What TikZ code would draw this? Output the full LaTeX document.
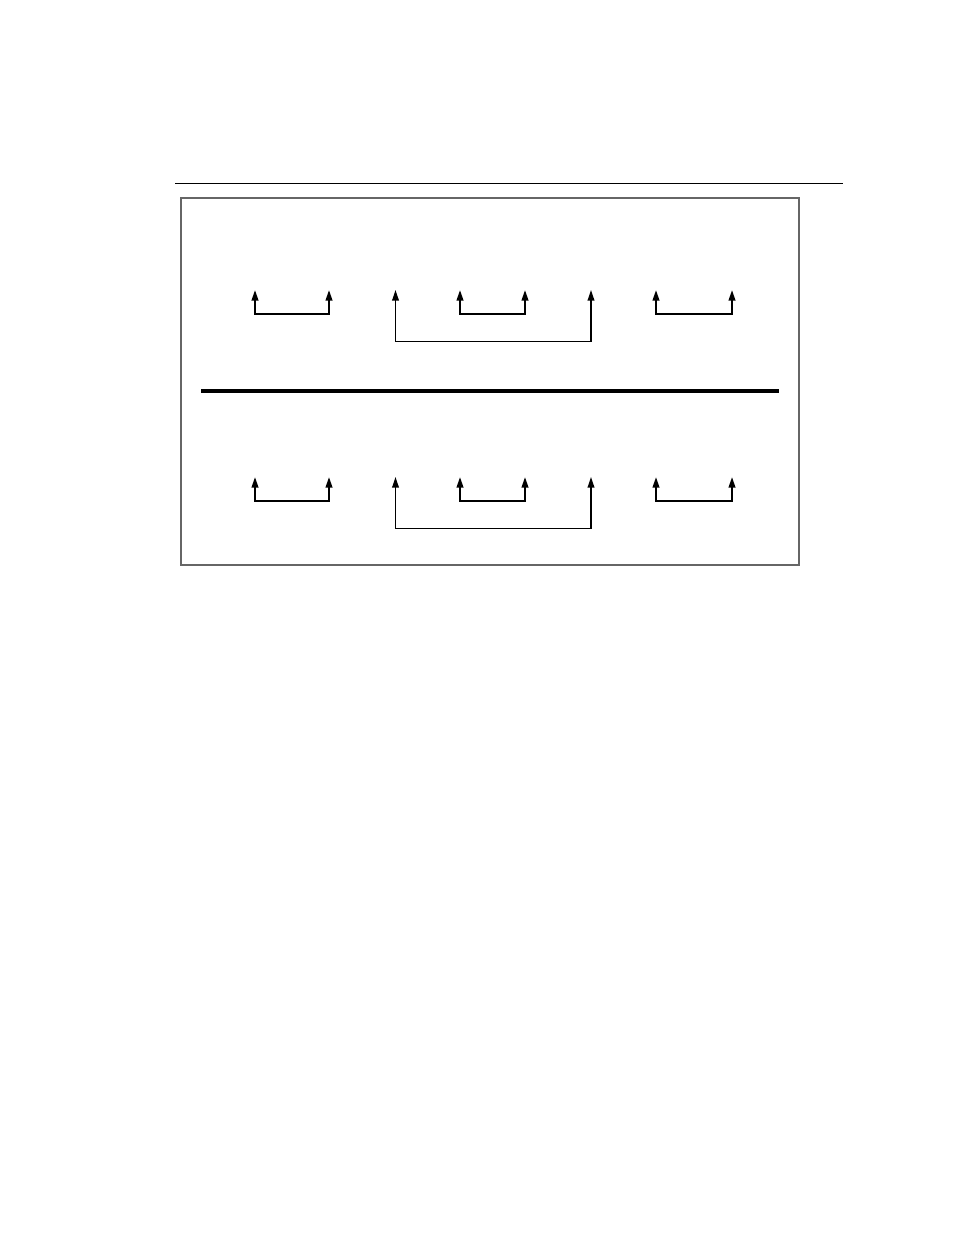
\documentclass[tikz,border=0pt]{standalone}
\usetikzlibrary{arrows.meta}

\def\rowsep{187}

\begin{document}
\begin{tikzpicture}[x=0.75pt,y=-0.75pt,>={Triangle[length=8pt,width=5pt]}]
    \tikzstyle{rule}=[line width=0.75pt]
    \tikzstyle{frame}=[draw=black!60,line width=0.9pt]
    \tikzstyle{divider}=[line width=2.4pt]
    \tikzstyle{bracket}=[<->,line width=1.5pt]
    \tikzstyle{wide bracket}=[bracket,line width=1.2pt]

    \useasboundingbox (0,0) rectangle (954,1235);

    % Rule above the figure
    \coordinate (R-l) at (175,183);
    \coordinate (R-r) at (843,183);
    \draw[rule] (R-l) -- (R-r);

    % Frame round the figure
    \coordinate (F-nw) at (181,198);
    \coordinate (F-se) at (799,565);
    \draw[frame] (F-nw) rectangle (F-se);

    % Line between the two rows
    \coordinate (D-l) at (201,391);
    \coordinate (D-r) at (779,391);
    \draw[divider] (D-l) -- (D-r);

    % Draw the brackets of each row
    \foreach \row / \y in {A/290,B/477} {
        % the three small brackets
        \foreach \name / \xa / \xb in {1/255/329,2/460/525,3/656/732} {
            \coordinate (\row-\name-tl) at (\xa,\y);
            \coordinate (\row-\name-bl) at (\xa,\y+23.5);
            \coordinate (\row-\name-br) at (\xb,\y+23.5);
            \coordinate (\row-\name-tr) at (\xb,\y);
            \draw[bracket] (\row-\name-tl) -- (\row-\name-bl) -- (\row-\name-br) -- (\row-\name-tr);
        }
        % the wide bracket round the middle one
        \coordinate (\row-W-tl) at (395.5,\y);
        \coordinate (\row-W-bl) at (395.5,\y+51.5);
        \coordinate (\row-W-br) at (591,\y+51.5);
        \coordinate (\row-W-tr) at (591,\y);
        \draw[wide bracket] (\row-W-tl) -- (\row-W-bl) -- (\row-W-br) -- (\row-W-tr);
    }
\end{tikzpicture}
\end{document}
